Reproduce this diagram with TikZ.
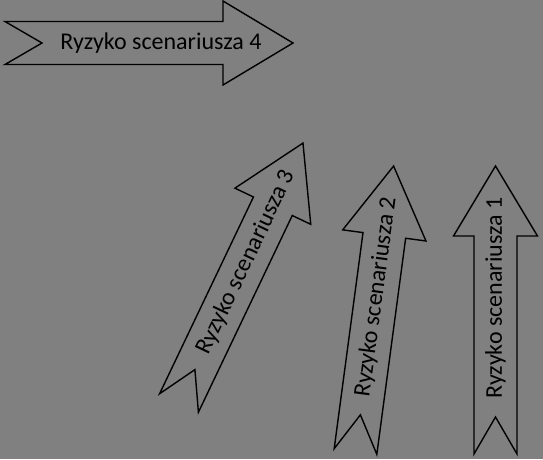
\documentclass[tikz,border=0pt]{standalone}
\usepackage{fontspec}
\setmainfont{Carlito}
\definecolor{bggray}{RGB}{128,128,128}
\tikzset{
  arrow line/.style={draw=black, line width=1.4pt, line join=miter},
  arrow text/.style={font=\fontsize{24}{28}\selectfont, transform shape, inner sep=0pt},
  pics/risk arrow/.style={code={
    \draw[arrow line] (0,21.5) -- (218,21.5) -- (218,42) -- (288,0) -- (218,-42)
      -- (218,-21.5) -- (0,-21.5) -- (37,0) -- cycle;
    \node[arrow text] (-text) at (156,0) {#1};
  }}
}
\begin{document}
\begin{tikzpicture}[x=1pt,y=1pt]
  \fill[bggray] (0,0) rectangle (543,459);
  \useasboundingbox (0,0) rectangle (543,459);

  \pic (s4) at (5,416) {risk arrow=Ryzyko scenariusza 4};
  \pic[rotate=64.5] (s3) at (179,56) {risk arrow=Ryzyko scenariusza 3};
  \pic[rotate=82.4] (s2) at (355.5,7.5) {risk arrow=Ryzyko scenariusza 2};
  \pic[rotate=90] (s1) at (495.5,5) {risk arrow=Ryzyko scenariusza 1};
\end{tikzpicture}
\end{document}
